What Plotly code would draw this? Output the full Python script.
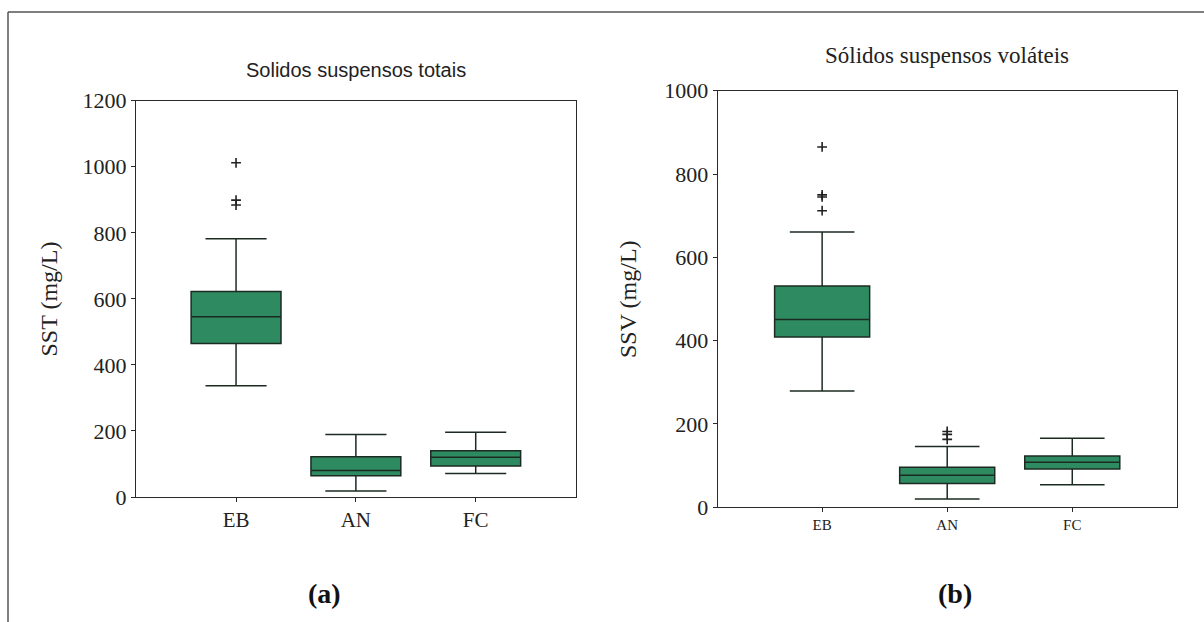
import plotly.graph_objects as go

W, H = 1204, 622

cats = ["EB", "AN", "FC"]

# Panel (a): Solidos suspensos totais (SST, mg/L)
sst_q1 = [465, 64, 94]
sst_median = [546, 80, 120]
sst_q3 = [622, 122, 140]
sst_lower = [337, 18, 71]
sst_upper = [782, 189, 196]
sst_out_x = ["EB", "EB", "EB"]
sst_out_y = [1012, 899, 884]

# Panel (b): Sólidos suspensos voláteis (SSV, mg/L)
ssv_q1 = [409, 57, 92]
ssv_median = [451, 77, 108]
ssv_q3 = [531, 96, 123]
ssv_lower = [279, 20, 54]
ssv_upper = [661, 146, 166]
ssv_out_x = ["EB", "EB", "EB", "EB", "AN", "AN", "AN"]
ssv_out_y = [865, 750, 745, 712, 182, 175, 163]

yticks_a = [0, 200, 400, 600, 800, 1000, 1200]
yticks_b = [0, 200, 400, 600, 800, 1000]

GREEN = "#2e8a61"
EDGE = "#1c2b22"
SERIF = "Liberation Serif, Times New Roman, serif"
SANS = "Liberation Sans, Arial, sans-serif"


def px(x):
    return x / W


def py(y):
    return 1 - y / H


fig = go.Figure()

fig.add_trace(go.Box(
    x=cats, q1=sst_q1, median=sst_median, q3=sst_q3,
    lowerfence=sst_lower, upperfence=sst_upper,
    fillcolor=GREEN, line=dict(color=EDGE, width=1.5),
    width=0.75, whiskerwidth=0.68, boxpoints=False,
    xaxis="x", yaxis="y", showlegend=False, hoverinfo="skip"))
fig.add_trace(go.Scatter(
    x=sst_out_x, y=sst_out_y, mode="markers",
    marker=dict(symbol="cross-thin", size=7, line=dict(color="#222", width=1.6)),
    xaxis="x", yaxis="y", showlegend=False, hoverinfo="skip"))

fig.add_trace(go.Box(
    x=cats, q1=ssv_q1, median=ssv_median, q3=ssv_q3,
    lowerfence=ssv_lower, upperfence=ssv_upper,
    fillcolor=GREEN, line=dict(color=EDGE, width=1.5),
    width=0.76, whiskerwidth=0.68, boxpoints=False,
    xaxis="x2", yaxis="y2", showlegend=False, hoverinfo="skip"))
fig.add_trace(go.Scatter(
    x=ssv_out_x, y=ssv_out_y, mode="markers",
    marker=dict(symbol="cross-thin", size=7, line=dict(color="#222", width=1.6)),
    xaxis="x2", yaxis="y2", showlegend=False, hoverinfo="skip"))

axis_common = dict(showline=True, mirror=True, linecolor="#2a2a2a", linewidth=1.2,
                   ticks="outside", ticklen=4, tickcolor="#2a2a2a", showgrid=False,
                   zeroline=False, fixedrange=True, automargin=False)

fig.update_layout(
    width=W, height=H, autosize=False,
    margin=dict(l=0, r=0, t=0, b=0, pad=0),
    paper_bgcolor="white", plot_bgcolor="white",
    xaxis=dict(domain=[px(136), px(576)], anchor="y", type="category",
               categoryorder="array", categoryarray=cats,
               range=[-0.835, 2.837],
               tickfont=dict(family=SERIF, size=21, color="#222"), **axis_common),
    yaxis=dict(domain=[py(497), py(100.7)], anchor="x", range=[0, 1200],
               tickvals=yticks_a, ticktext=[str(v) for v in yticks_a],
               tickfont=dict(family=SERIF, size=22, color="#222"), **axis_common),
    xaxis2=dict(domain=[px(717.7), px(1176.7)], anchor="y2", type="category",
                categoryorder="array", categoryarray=cats,
                range=[-0.835, 2.835],
                tickfont=dict(family=SERIF, size=15, color="#222"), **axis_common),
    yaxis2=dict(domain=[py(507.3), py(90.7)], anchor="x2", range=[0, 1000],
                tickvals=yticks_b, ticktext=[str(v) for v in yticks_b],
                tickfont=dict(family=SERIF, size=22, color="#222"), **axis_common),
)

annotations = [
    dict(text="Solidos suspensos totais", x=px(356), y=py(70),
         font=dict(family=SANS, size=20, color="#222")),
    dict(text="Sólidos suspensos voláteis", x=px(947), y=py(56),
         font=dict(family=SERIF, size=23, color="#222")),
    dict(text="SST (mg/L)", x=px(48.5), y=py(299), textangle=-90,
         font=dict(family=SERIF, size=24, color="#222")),
    dict(text="SSV (mg/L)", x=px(628), y=py(299), textangle=-90,
         font=dict(family=SERIF, size=24, color="#222")),
    dict(text="<b>(a)</b>", x=px(324), y=py(593),
         font=dict(family=SERIF, size=28, color="#111")),
    dict(text="<b>(b)</b>", x=px(955), y=py(593),
         font=dict(family=SERIF, size=28, color="#111")),
]
for a in annotations:
    a.update(xref="paper", yref="paper", xanchor="center", yanchor="middle",
             showarrow=False)
fig.update_layout(annotations=annotations)

fig.update_layout(shapes=[
    dict(type="line", xref="paper", yref="paper", x0=px(8), x1=1, y0=py(12), y1=py(12),
         line=dict(color="#555", width=1.5)),
    dict(type="line", xref="paper", yref="paper", x0=px(8), x1=px(8), y0=0, y1=py(12),
         line=dict(color="#555", width=1.5)),
])

fig.write_html(
    "out.html",
    config={"responsive": False, "displayModeBar": False},
    post_script="document.body.style.margin='0';document.body.style.overflow='hidden';",
)
